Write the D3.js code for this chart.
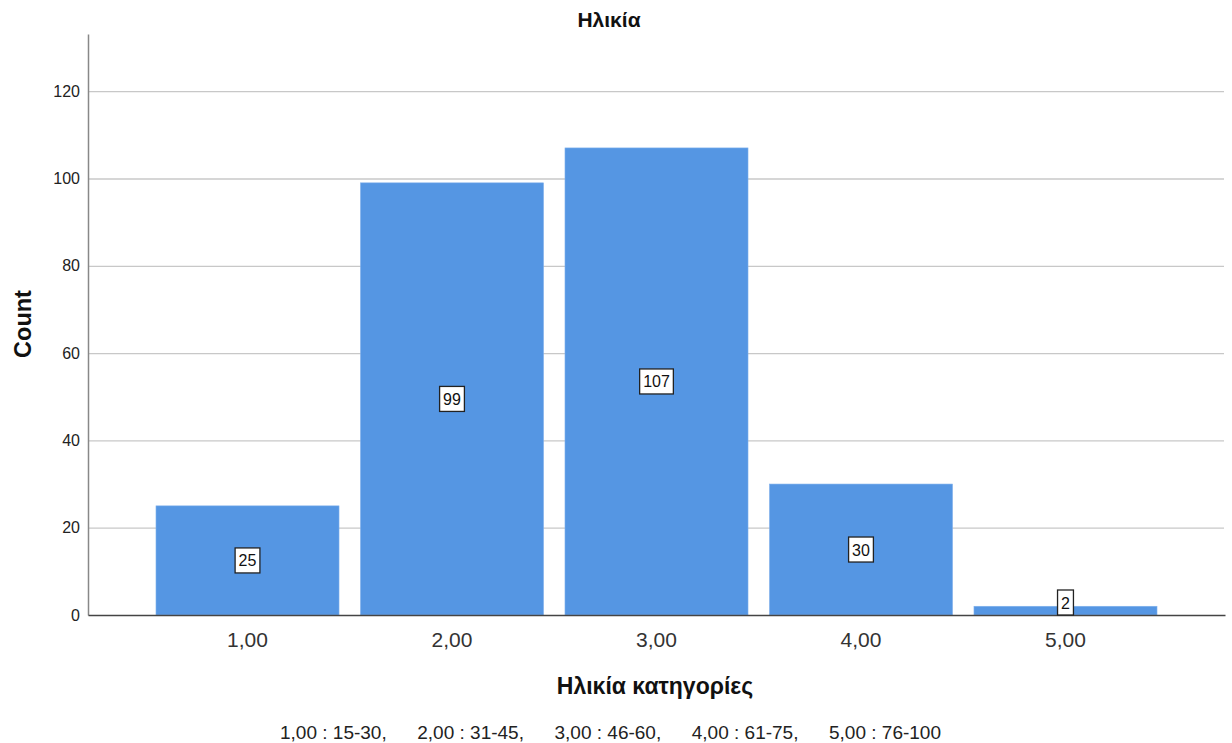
<!DOCTYPE html>
<html><head><meta charset="utf-8">
<script src="https://cdn.jsdelivr.net/npm/d3@7"></script>
<style>body{margin:0;background:#fff}svg{display:block;font-family:"Liberation Sans",Arial,sans-serif}</style>
</head><body><svg id="c" width="1232" height="743"></svg>
<script>
const categories = ["1,00","2,00","3,00","4,00","5,00"];
const counts = [25, 99, 107, 30, 2];
const yTicks = [0, 20, 40, 60, 80, 100, 120];
const chartTitle = "Ηλικία";
const xTitle = "Ηλικία κατηγορίες";
const yTitle = "Count";
const footnoteItems = ["1,00 : 15-30,", "2,00 : 31-45,", "3,00 : 46-60,", "4,00 : 61-75,", "5,00 : 76-100"];

const FF = "Liberation Sans, Arial, sans-serif";
const svg = d3.select("#c");
const L = 88, R = 1225, T = 34, B = 615;
const y = d3.scaleLinear().domain([0, 133.1]).range([B, T]);
const x = d3.scaleBand().domain(categories).range([L, R]).paddingOuter(0.3325).paddingInner(0.105);

// gridlines
svg.append("g").selectAll("line").data(yTicks.filter(d => d > 0)).join("line")
  .attr("x1", L).attr("x2", R - 1).attr("y1", d => y(d) + 0.5).attr("y2", d => y(d) + 0.5)
  .attr("stroke", "#c8c8c8").attr("stroke-width", 1.3);

// y axis
const ya = svg.append("g").attr("transform", `translate(${L},0)`)
  .call(d3.axisLeft(y).tickValues(yTicks).tickSize(0).tickPadding(8));
ya.select(".domain").attr("stroke", "#888").attr("stroke-width", 1.5);
ya.selectAll("text").attr("font-size", 16).attr("fill", "#222").attr("font-family", FF);

// bars
svg.append("g").selectAll("rect").data(counts).join("rect")
  .attr("x", (d, i) => x(categories[i])).attr("width", x.bandwidth())
  .attr("y", d => y(d)).attr("height", d => B - y(d))
  .attr("fill", "#5596e3").attr("stroke", "#7fb0ec").attr("stroke-width", 0.6);

// x axis baseline
const xa = svg.append("g").attr("transform", `translate(0,${B})`)
  .call(d3.axisBottom(x).tickSize(0).tickPadding(17));
xa.select(".domain").attr("stroke", "#444").attr("stroke-width", 1.3);
xa.selectAll("text").attr("font-size", 21).attr("fill", "#333").attr("font-family", FF);

// value labels
const lg = svg.append("g");
counts.forEach((d, i) => {
  const cx = x(categories[i]) + x.bandwidth() / 2;
  const h = 25;
  let cy = (y(d) + B) / 2;
  if (cy + h / 2 > B) cy = B - h / 2;
  const t = lg.append("text").text(d).attr("x", cx).attr("y", cy + 6)
    .attr("text-anchor", "middle").attr("font-size", 16).attr("fill", "#111");
  const w = t.node().getComputedTextLength() + 7;
  lg.insert("rect", "text").attr("x", cx - w / 2).attr("y", cy - h / 2).attr("width", w).attr("height", h)
    .attr("fill", "#fff").attr("stroke", "#222").attr("stroke-width", 1.3);
});

// titles
svg.append("text").text(chartTitle).attr("x", 609).attr("y", 27).attr("text-anchor", "middle")
  .attr("font-size", 21).attr("font-weight", "bold").attr("fill", "#111");
svg.append("text").text(yTitle).attr("transform", "translate(31,324) rotate(-90)").attr("text-anchor", "middle")
  .attr("font-size", 23.5).attr("font-weight", "bold").attr("fill", "#111");
svg.append("text").text(xTitle).attr("x", 655).attr("y", 694).attr("text-anchor", "middle")
  .attr("font-size", 23).attr("font-weight", "bold").attr("fill", "#111");

const fx = d3.scalePoint().domain(footnoteItems).range([280, 829]);
svg.append("g").selectAll("text").data(footnoteItems).join("text")
  .text(d => d).attr("x", d => fx(d)).attr("y", 739)
  .attr("font-size", 19).attr("fill", "#222");
</script></body></html>
